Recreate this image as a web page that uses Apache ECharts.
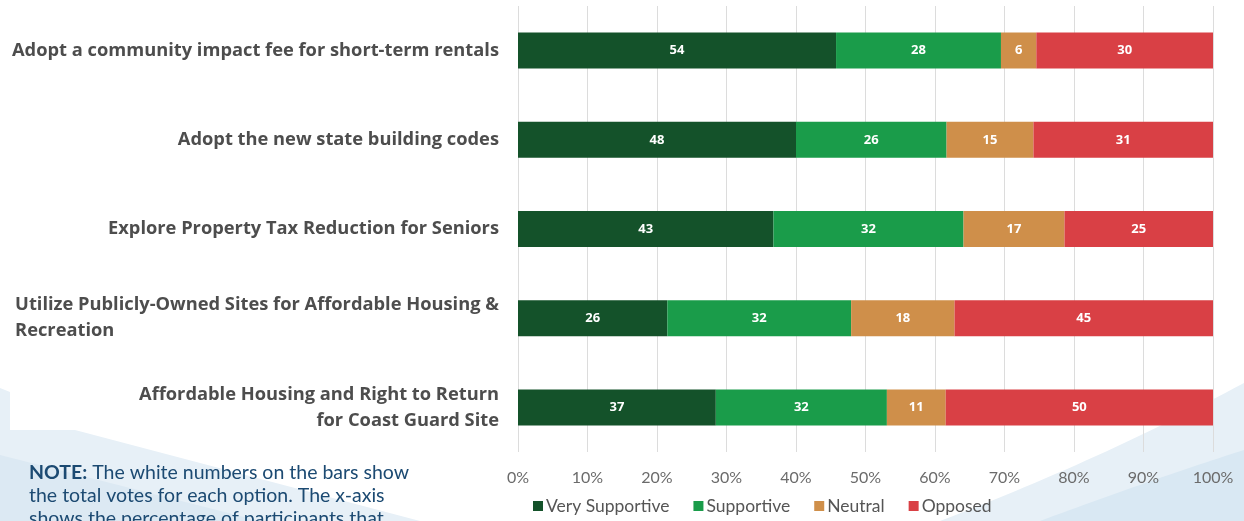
<!DOCTYPE html>
<html>
<head>
<meta charset="utf-8">
<script src="https://cdn.jsdelivr.net/npm/echarts@6/dist/echarts.min.js"></script>
<style>
html,body{margin:0;padding:0;background:#fff;}
#chart{width:1244px;height:521px;}
</style>
</head>
<body>
<div id="chart"></div>
<script>
const categories = [
  'Adopt a community impact fee for short-term rentals',
  'Adopt the new state building codes',
  'Explore Property Tax Reduction for Seniors',
  'Utilize Publicly-Owned Sites for Affordable Housing & Recreation',
  'Affordable Housing and Right to Return for Coast Guard Site'
];
const seriesNames = ['Very Supportive', 'Supportive', 'Neutral', 'Opposed'];
const verySupportive = [54, 48, 43, 26, 37];
const supportive = [28, 26, 32, 32, 32];
const neutral = [6, 15, 17, 18, 11];
const opposed = [30, 31, 25, 45, 50];
const tickLabels = ['0%','10%','20%','30%','40%','50%','60%','70%','80%','90%','100%'];
const colors = ['#14522a', '#1a9c4a', '#cf8f4a', '#d94045'];

const raw = [verySupportive, supportive, neutral, opposed];
const totals = categories.map((c, i) => raw.reduce((s, arr) => s + arr[i], 0));

const labelFont = 'Lato, "Open Sans", sans-serif';
const catFont = '"Open Sans", Lato, sans-serif';

function catLabel(value) {
  if (value.indexOf('Utilize') === 0) {
    return '{a|Utilize Publicly-Owned Sites for Affordable Housing &}\n{l|Recreation}';
  }
  if (value.indexOf('Affordable Housing and') === 0) {
    return '{a|Affordable Housing and Right to Return}\n{a|for Coast Guard Site}';
  }
  return '{a|' + value + '}';
}

// decorative background curve (quadratic) as polygon points
function quadPoly(p0, c, p1, closeTo) {
  const pts = [];
  for (let k = 0; k <= 30; k++) {
    const t = k / 30;
    const x = (1-t)*(1-t)*p0[0] + 2*(1-t)*t*c[0] + t*t*p1[0];
    const y = (1-t)*(1-t)*p0[1] + 2*(1-t)*t*c[1] + t*t*p1[1];
    pts.push([x, y]);
  }
  return pts.concat(closeTo);
}

const chart = echarts.init(document.getElementById('chart'));
chart.setOption({
  backgroundColor: '#ffffff',
  animation: false,
  graphic: [
    { type: 'polygon', z: -10, silent: true,
      shape: { points: [[0,388],[10,392],[10,430],[75,430],[420,521],[0,521]] },
      style: { fill: '#e7f0f7' } },
    { type: 'polygon', z: -9, silent: true,
      shape: { points: [[0,455],[260,521],[0,521]] },
      style: { fill: '#dce9f3' } },
    { type: 'polygon', z: -10, silent: true,
      shape: { points: quadPoly([940,521],[1100,460],[1244,383],[[1244,521]]) },
      style: { fill: '#e7f0f7' } },
    { type: 'polygon', z: -9, silent: true,
      shape: { points: quadPoly([1040,521],[1150,480],[1244,450],[[1244,521]]) },
      style: { fill: '#d9e8f3' } },
    { type: 'text', left: 29, top: 461, silent: true,
      style: {
        text: '{b|NOTE:} The white numbers on the bars show\nthe total votes for each option. The x-axis\nshows the percentage of participants that',
        font: '19.5px ' + labelFont,
        fill: '#1c4a72',
        lineHeight: 23,
        rich: { b: { fontWeight: 'bold', fontSize: 19.5, fontFamily: 'Lato', fill: '#1c4a72' } }
      } }
  ],
  grid: { left: 518, right: 31, top: 6, bottom: 69, containLabel: false },
  legend: {
    data: seriesNames,
    left: 528, bottom: 1,
    itemWidth: 10, itemHeight: 10, itemGap: 24,
    icon: 'rect',
    textStyle: { fontSize: 17.5, color: '#555', fontFamily: labelFont, padding: [0, 0, 0, -2] }
  },
  xAxis: {
    type: 'value', min: 0, max: 100, interval: 10,
    axisLine: { show: false }, axisTick: { show: false },
    splitLine: { lineStyle: { color: '#dcdcdc', width: 1 } },
    axisLabel: {
      formatter: (v) => tickLabels[Math.round(v / 10)],
      fontSize: 16, color: '#6b6b6b', fontFamily: labelFont, margin: 18
    }
  },
  yAxis: {
    type: 'category', data: categories, inverse: true,
    axisLine: { show: false }, axisTick: { show: false },
    axisLabel: {
      margin: 19, align: 'right',
      formatter: catLabel,
      rich: {
        a: { fontSize: 18.3, fontWeight: 'bold', color: '#4d4d4d', fontFamily: catFont, lineHeight: 26, align: 'right' },
        l: { fontSize: 18.3, fontWeight: 'bold', color: '#4d4d4d', fontFamily: catFont, lineHeight: 26, align: 'left' }
      }
    }
  },
  series: seriesNames.map((name, si) => ({
    name: name,
    type: 'bar',
    stack: 'total',
    barWidth: 36,
    itemStyle: { color: colors[si] },
    label: {
      show: true, position: 'inside', color: '#fff', fontWeight: 'bold',
      fontSize: 13, fontFamily: catFont,
      formatter: (p) => String(raw[si][p.dataIndex])
    },
    data: raw[si].map((v, i) => v / totals[i] * 100)
  }))
});
</script>
</body>
</html>
